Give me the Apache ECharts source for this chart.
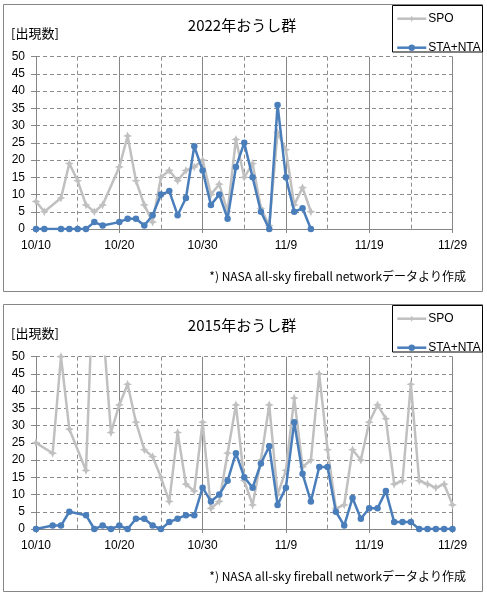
<!DOCTYPE html>
<html><head><meta charset="utf-8">
<script src="https://cdn.jsdelivr.net/npm/echarts@6/dist/echarts.min.js"></script>
<style>html,body{margin:0;padding:0;background:#fff}#c{width:487px;height:596px}</style>
</head><body><div id="c"></div>
<script>
const tickLabels = ['10/10','10/20','10/30','11/9','11/19','11/29'];
const seriesNames = ['SPO','STA+NTA'];
const titles = ['2022年おうし群','2015年おうし群'];
const unitLabel = '[出現数]';
const footnote = '*) NASA all-sky fireball networkデータより作成';

const dates2022 = ['10/10','10/11','10/13','10/14','10/15','10/16','10/17','10/18','10/20','10/21','10/22','10/23','10/24','10/25','10/26','10/27','10/28','10/29','10/30','10/31','11/1','11/2','11/3','11/4','11/5','11/6','11/7','11/8','11/9','11/10','11/11','11/12'];
const spo2022 = [8,5,9,19,14,7,5,7,18,27,14,7,2,15,17,14,17,18,20,10,13,5,26,15,19,6,1,28,23,7,12,5];
const sta2022 = [0,0,0,0,0,0,2,1,2,3,3,1,4,10,11,4,9,24,17,7,10,3,18,25,15,5,0,36,15,5,6,0];

const dates2015 = ['10/10','10/12','10/13','10/14','10/16','10/17','10/18','10/19','10/20','10/21','10/22','10/23','10/24','10/25','10/26','10/27','10/28','10/29','10/30','10/31',
  '11/1','11/2','11/3','11/4','11/5','11/6','11/7','11/8','11/9','11/10','11/11','11/12','11/13','11/14','11/15','11/16','11/17','11/18','11/19','11/20','11/21','11/22','11/23','11/24','11/25','11/26','11/27','11/28','11/29'];
const spo2015 = [25,22,50,29,17,80,60,28,36,42,31,23,21,15,8,28,13,11,31,6,
  8,22,36,14,7,20,36,10,17,38,18,20,45,23,6,7,23,20,31,36,32,13,14,42,14,13,12,13,7];
const sta2015 = [0,1,1,5,4,0,1,0,1,0,3,3,1,0,2,3,4,4,12,8,
  10,14,22,15,12,19,24,7,12,31,16,8,18,18,5,1,9,3,6,6,11,2,2,2,0,0,0,0,0];

function dayIndex(s){ const p=s.split('/'); const m=+p[0], d=+p[1]; return m===10 ? d-10 : 21+d; }
function pairs(dates, vals){ return dates.map((d,i)=>[dayIndex(d), vals[i]]); }

const FONT = '"Liberation Sans", Arial, sans-serif';
const CJK = '"Noto Sans CJK JP", sans-serif';
const GRAY = '#C0C0C0', BLUE = '#4A7EBB';
const starPath = 'path://M0,-10 L3,-3 L10,0 L3,3 L0,10 L-3,3 L-10,0 L-3,-3 Z';

const OFF = [0, 300];
const grids = OFF.map(o => ({left:36, top:56.7+o, width:416.5, height:172.3}));
const xAxes = OFF.map((o,i) => ({
  type:'value', gridIndex:i, min:0, max:50, interval:10,
  axisLine:{show:true, lineStyle:{color:'#868686', width:1}},
  axisTick:{show:true, length:4, lineStyle:{color:'#868686'}},
  axisLabel:{color:'#000', fontSize:12, fontFamily:FONT, margin:11, formatter:v => tickLabels[Math.round(v/10)]},
  splitLine:{show:true, lineStyle:{color:'#868686', width:1, type:'solid'}},
  minorTick:{show:false, splitNumber:2},
  minorSplitLine:{show:true, lineStyle:{color:'#8c8c8c', width:1, type:[4,3]}}
}));
const yAxes = OFF.map((o,i) => ({
  type:'value', gridIndex:i, min:0, max:50, interval:5,
  axisLine:{show:true, lineStyle:{color:'#868686', width:1}},
  axisTick:{show:true, length:5, lineStyle:{color:'#868686'}},
  axisLabel:{color:'#000', fontSize:12, fontFamily:FONT, margin:11},
  splitLine:{show:true, lineStyle:{color:'#8c8c8c', width:1, type:[4,3]}}
}));

const dataSets = [[pairs(dates2022, spo2022), pairs(dates2022, sta2022)], [pairs(dates2015, spo2015), pairs(dates2015, sta2015)]];
const series = [];
dataSets.forEach((ds, i) => {
  series.push({name:seriesNames[0], type:'line', xAxisIndex:i, yAxisIndex:i, data:ds[0], clip:true,
    symbol:starPath, symbolSize:9, showAllSymbol:true, z:2,
    lineStyle:{color:GRAY, width:2.5, join:'round'}, itemStyle:{color:GRAY}});
  series.push({name:seriesNames[1], type:'line', xAxisIndex:i, yAxisIndex:i, data:ds[1], clip:true,
    symbol:'circle', symbolSize:6.5, showAllSymbol:true, z:3,
    lineStyle:{color:BLUE, width:2.5, join:'round'}, itemStyle:{color:BLUE}});
});

const legends = OFF.map(o => ({
  data:seriesNames, orient:'vertical', left:396, top:12.7+o, itemWidth:29, itemHeight:8, itemGap:17,
  padding:0, lineStyle:{width:2.5}, textStyle:{color:'#000', fontSize:12, fontFamily:FONT, padding:[0,0,0,-3]}
}));

const graphic = [];
OFF.forEach((o,i) => {
  graphic.push({type:'rect', shape:{x:3.5, y:4.5+o, width:479, height:287}, style:{fill:'none', stroke:'#868686', lineWidth:1}, z:-1});
  graphic.push({type:'rect', shape:{x:392.5, y:5.5+o, width:90, height:46.5}, style:{fill:'#fff', stroke:'#000', lineWidth:1}, z:-1});
  graphic.push({type:'text', x:242, y:25+o, style:{text:titles[i], fill:'#000', font:'15px '+CJK, textAlign:'center', textVerticalAlign:'middle'}});
  graphic.push({type:'text', x:11, y:33+o, style:{text:unitLabel, fill:'#000', font:'13px '+CJK, textAlign:'left', textVerticalAlign:'middle'}});
  graphic.push({type:'text', x:466, y:276.5+o, style:{text:footnote, fill:'#000', font:'12px '+CJK, textAlign:'right', textVerticalAlign:'middle'}});
});

const chart = echarts.init(document.getElementById('c'), null, {renderer:'canvas'});
chart.setOption({
  animation:false, backgroundColor:'#fff',
  grid:grids, xAxis:xAxes, yAxis:yAxes, legend:legends, series:series, graphic:graphic
});
</script></body></html>
